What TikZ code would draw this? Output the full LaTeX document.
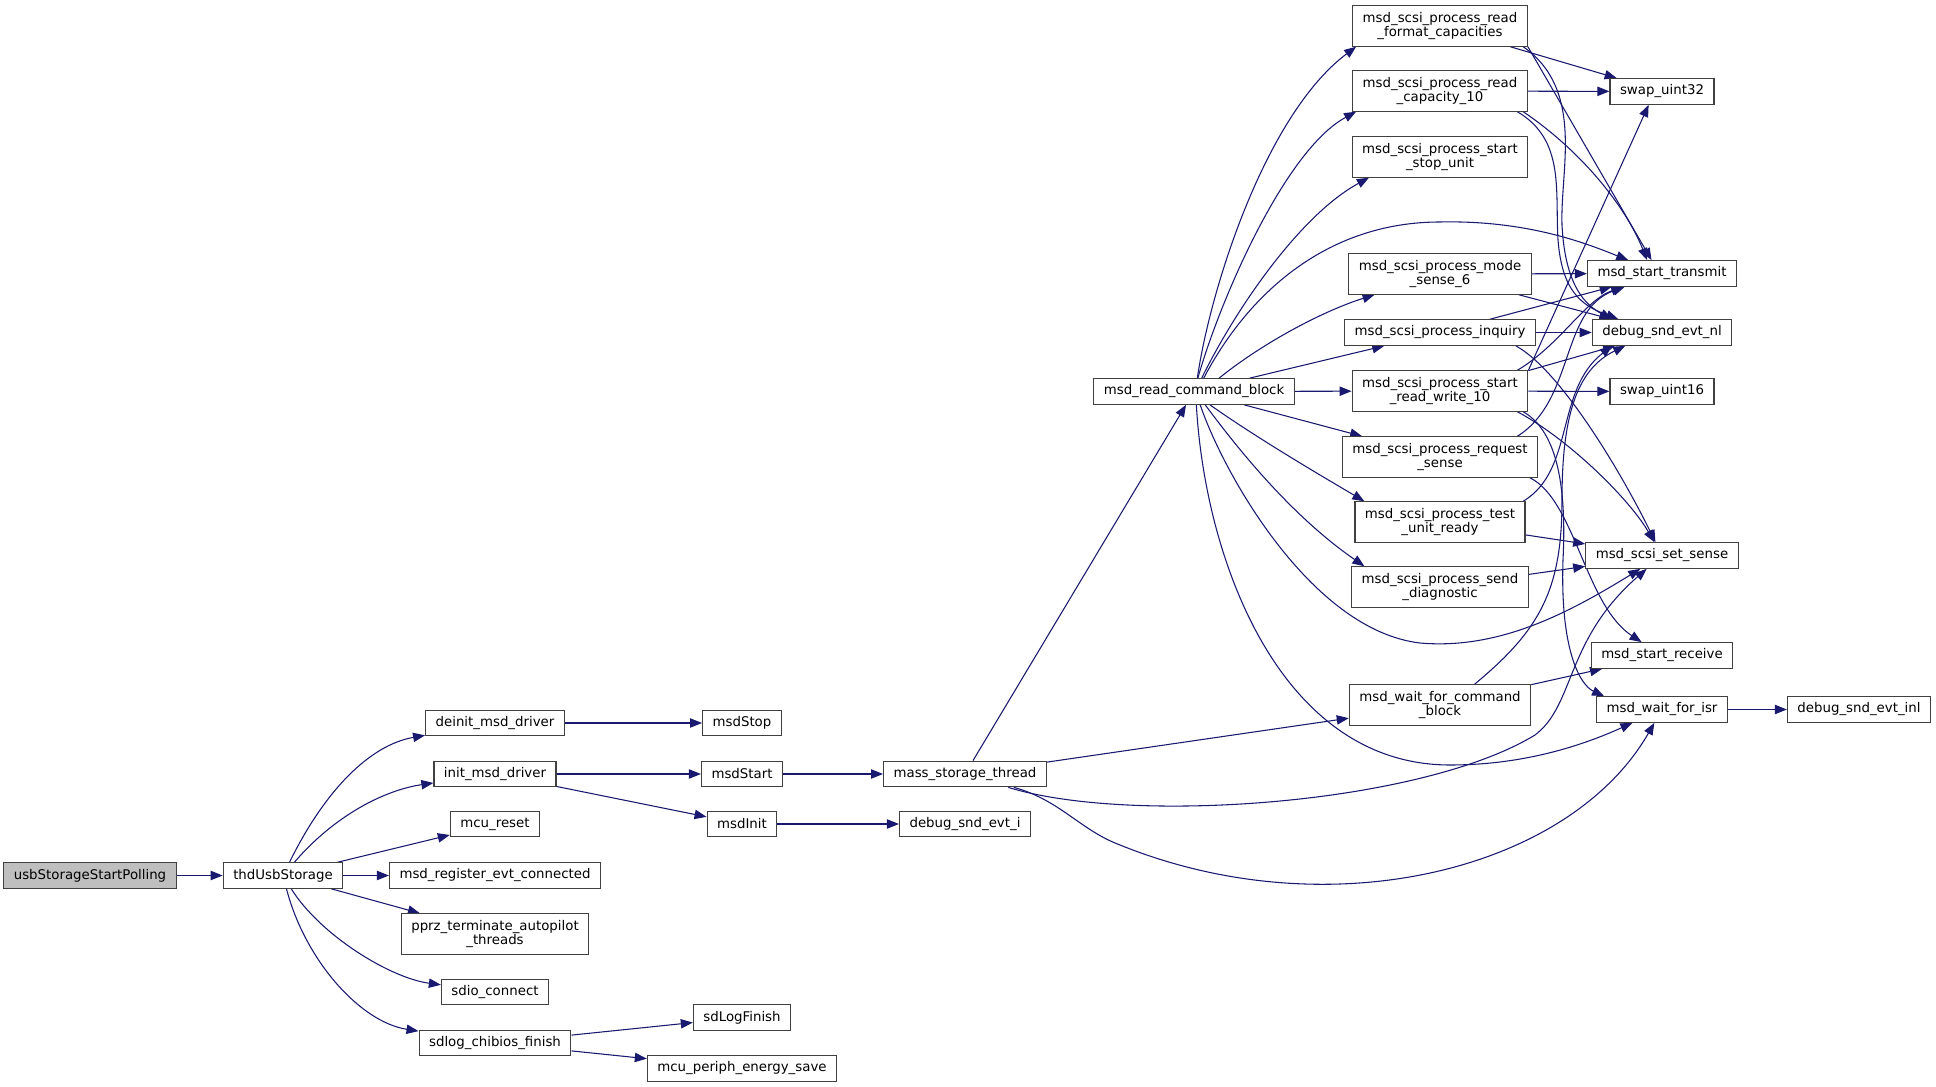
\documentclass[tikz,border=0pt]{standalone}
\usepackage{fontspec}
\setmainfont{DejaVu Sans}
\usetikzlibrary{arrows.meta}
\pgfdeclarelayer{edges}
\pgfsetlayers{edges,main}

\definecolor{edgeblue}{HTML}{191970}
\definecolor{boxline}{HTML}{404040}
\definecolor{rootgray}{HTML}{BFBFBF}

\tikzset{
  fn/.style={draw=boxline, line width=0.9pt, fill=white, align=center,
    font=\fontsize{10pt}{10.75pt}\selectfont,
    inner xsep=7.5pt, inner ysep=4.6pt, minimum height=19pt},
  fntwo/.style={fn, minimum height=30.2pt},
  rootfn/.style={fn, fill=rootgray},
  calls/.style={draw=edgeblue, line width=0.8pt,
    -{Triangle[length=9pt,width=7pt]}},
}

\begin{document}
\begin{tikzpicture}[x=0.75pt, y=-0.75pt]
\useasboundingbox (0,0) rectangle (1936,1087);

% caller side
\node[rootfn] (usb) at (90,875.5) {usbStorageStartPolling};
\node[fn] (thd) at (283,875.5) {thdUsbStorage};

\node[fn] (deinit) at (495,723) {deinit\_msd\_driver};
\node[fn] (init) at (495,774) {init\_msd\_driver};
\node[fn] (mcureset) at (495,824) {mcu\_reset};
\node[fn] (register) at (495,875.5) {msd\_register\_evt\_connected};
\node[fntwo] (pprz) at (495,934) {pprz\_terminate\_autopilot\\\_threads};
\node[fn] (sdio) at (495,992) {sdio\_connect};
\node[fn] (sdlog) at (495,1043) {sdlog\_chibios\_finish};

\node[fn] (msdstop) at (742,723) {msdStop};
\node[fn] (msdstart) at (742,774) {msdStart};
\node[fn] (msdinit) at (742,824) {msdInit};
\node[fn] (logfinish) at (742,1017.5) {sdLogFinish};
\node[fn] (energy) at (742,1068.5) {mcu\_periph\_energy\_save};

\node[fn] (thread) at (965,774) {mass\_storage\_thread};
\node[fn] (evti) at (965,824) {debug\_snd\_evt\_i};
\node[fn] (mrcb) at (1194,391.5) {msd\_read\_command\_block};

% scsi handlers
\node[fntwo] (rfc) at (1440,26) {msd\_scsi\_process\_read\\\_format\_capacities};
\node[fntwo] (rc10) at (1440,91) {msd\_scsi\_process\_read\\\_capacity\_10};
\node[fntwo] (ssu) at (1440,157) {msd\_scsi\_process\_start\\\_stop\_unit};
\node[fntwo] (ms6) at (1440,274) {msd\_scsi\_process\_mode\\\_sense\_6};
\node[fn] (inq) at (1440,332.5) {msd\_scsi\_process\_inquiry};
\node[fntwo] (srw) at (1440,391) {msd\_scsi\_process\_start\\\_read\_write\_10};
\node[fntwo] (rs) at (1440,457) {msd\_scsi\_process\_request\\\_sense};
\node[fntwo] (tur) at (1440,522) {msd\_scsi\_process\_test\\\_unit\_ready};
\node[fntwo] (sdiag) at (1440,587) {msd\_scsi\_process\_send\\\_diagnostic};
\node[fntwo] (wfcb) at (1440,705) {msd\_wait\_for\_command\\\_block};

% leaf functions
\node[fn] (swap32) at (1662,91.5) {swap\_uint32};
\node[fn] (xmit) at (1662,273.5) {msd\_start\_transmit};
\node[fn] (evtnl) at (1662,332.5) {debug\_snd\_evt\_nl};
\node[fn] (swap16) at (1662,391.5) {swap\_uint16};
\node[fn] (sense) at (1662,555.5) {msd\_scsi\_set\_sense};
\node[fn] (recv) at (1662,655.5) {msd\_start\_receive};
\node[fn] (isr) at (1662,709.5) {msd\_wait\_for\_isr};
\node[fn] (evtinl) at (1859,709.5) {debug\_snd\_evt\_inl};

\begin{pgfonlayer}{edges}
% left tree
\draw[calls] (usb) -- (thd);
\draw[calls] (thd) .. controls (325,790) and (370,745) .. (deinit);
\draw[calls] (thd) .. controls (335,815) and (385,790) .. (init);
\draw[calls] (thd) -- (mcureset);
\draw[calls] (thd) -- (register);
\draw[calls] (thd) -- (pprz);
\draw[calls] (thd) .. controls (320,935) and (390,978) .. (sdio);
\draw[calls] (thd) .. controls (305,960) and (360,1022) .. (sdlog);
\draw[calls] (deinit) -- (msdstop);
\draw[calls] (init) -- (msdstart);
\draw[calls] (init) -- (msdinit);
\draw[calls] (msdstart) -- (thread);
\draw[calls] (msdinit) -- (evti);
\draw[calls] (sdlog) -- (logfinish);
\draw[calls] (sdlog) -- (energy);

% mass_storage_thread
\draw[calls] (thread) -- (mrcb);
\draw[calls] (thread) -- (wfcb);
\draw[calls] (thread) .. controls (1130,825) and (1420,805) .. (1535,735)
  .. controls (1575,705) and (1565,640) .. (sense);
\draw[calls] (thread) .. controls (1060,800) and (1080,830) .. (1120,845)
  .. controls (1330,930) and (1570,870) .. (isr);

% msd_read_command_block
\draw[calls] (mrcb.76) .. controls (1210,290) and (1265,115) .. ([xshift=3pt]rfc.south west);
\draw[calls] (mrcb.74) .. controls (1220,300) and (1285,150) .. ([xshift=3pt]rc10.south west);
\draw[calls] (mrcb.60) .. controls (1235,310) and (1300,215) .. ([xshift=13pt]ssu.south west);
\draw[calls] (mrcb.54) .. controls (1250,290) and (1330,222) .. (1440,222)
  .. controls (1530,220) and (1590,245) .. (xmit);
\draw[calls] (mrcb.28) .. controls (1260,345) and (1320,312) .. (ms6);
\draw[calls] (mrcb) -- (inq);
\draw[calls] (mrcb) -- (srw);
\draw[calls] (mrcb) -- (rs);
\draw[calls] (mrcb.-40) .. controls (1260,440) and (1320,475) .. ([xshift=7.5pt]tur.north west);
\draw[calls] (mrcb.-50) .. controls (1235,445) and (1290,515) .. ([xshift=10pt]sdiag.north west);
\draw[calls] (mrcb.-65) .. controls (1222,470) and (1310,630) .. (1420,643)
  .. controls (1500,650) and (1570,612) .. (sense);
\draw[calls] (mrcb.-80) .. controls (1205,560) and (1280,765) .. (1450,765)
  .. controls (1530,765) and (1590,742) .. (isr);

% handlers to leaf functions
\draw[calls] (rfc) -- (swap32);
\draw[calls] (rfc.south east) -- (xmit.128);
\draw[calls] (rfc.-14) .. controls (1585,90) and (1560,170) .. (1562,225)
  .. controls (1565,285) and (1585,305) .. (evtnl.165);
\draw[calls] (rc10) -- (swap32);
\draw[calls] (rc10.-14) .. controls (1580,150) and (1625,205) .. (xmit.138);
\draw[calls] (rc10.-15) .. controls (1565,140) and (1555,190) .. (1558,240)
  .. controls (1562,290) and (1580,305) .. (evtnl.163);
\draw[calls] (ms6) -- (xmit);
\draw[calls] (ms6) -- (evtnl);
\draw[calls] (inq) -- (xmit);
\draw[calls] (inq) -- (evtnl);
\draw[calls] (inq.-10) .. controls (1560,370) and (1620,470) .. (sense);
\draw[calls] (srw.north east) -- (swap32.-135);
\draw[calls] (srw.15) .. controls (1560,345) and (1585,300) .. (xmit);
\draw[calls] (srw.13) -- (evtnl);
\draw[calls] (srw) -- (swap16);
\draw[calls] (srw.-15) .. controls (1570,440) and (1630,500) .. (sense);
\draw[calls] (srw.-14) .. controls (1555,430) and (1567,480) .. (1563,560)
  .. controls (1560,650) and (1580,685) .. (isr.167);
\draw[calls] (rs.15) .. controls (1575,400) and (1560,310) .. (xmit);
\draw[calls] (rs.-13) .. controls (1575,500) and (1585,605) .. (recv);
\draw[calls] (tur) -- (sense);
\draw[calls] (tur.14) .. controls (1575,470) and (1555,390) .. (evtnl.-165);
\draw[calls] (sdiag) -- (sense);
\draw[calls] (wfcb) -- (recv);
\draw[calls] (wfcb.31) .. controls (1540,630) and (1562,590) .. (1562,500)
  .. controls (1562,420) and (1575,370) .. (evtnl.-160);
\draw[calls] (isr) -- (evtinl);
\end{pgfonlayer}

\end{tikzpicture}
\end{document}
